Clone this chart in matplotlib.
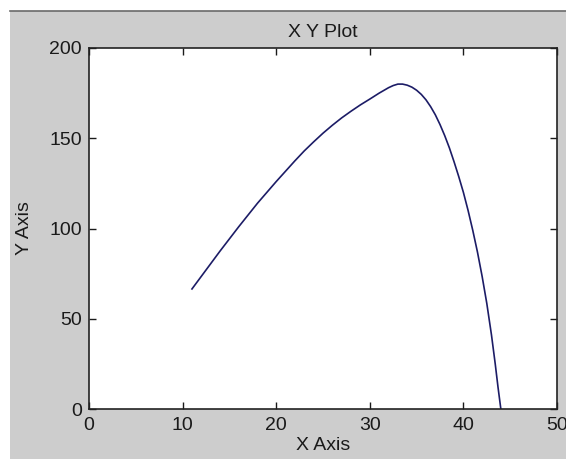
import matplotlib.pyplot as plt
from matplotlib.patches import Rectangle
from matplotlib.lines import Line2D

plt.rcParams['font.family'] = ['Liberation Sans', 'DejaVu Sans']

# points
x_vals = [11.0, 12.0, 14.0, 16.0, 18.0, 20.0, 22.0, 23.0, 24.0, 25.0, 26.0,
          27.0, 28.0, 29.0, 30.0, 31.0, 32.0, 32.5, 33.0, 33.5, 34.0, 34.5,
          35.0, 35.5, 36.0, 36.5, 37.0, 37.5, 38.0, 38.5, 39.0, 39.5, 40.0,
          40.5, 41.0, 41.5, 42.0, 42.5, 43.0, 43.4, 43.7, 44.0]
y_vals = [66.5, 73.5, 87.5, 101, 114, 126, 137.5, 143, 148, 152.8, 157.2,
          161.3, 165, 168.5, 171.7, 175, 178, 179.2, 180, 180, 179.4, 178.3,
          176.6, 174.3, 171.3, 167.5, 163, 157.6, 151.5, 144.7, 137, 128.8, 120,
          110, 99, 87, 73.5, 58.5, 41, 25, 12, 0]

x_ticks = [0, 10, 20, 30, 40, 50]
y_ticks = [0, 50, 100, 150, 200]

fig = plt.figure(figsize=(5.66, 4.59), dpi=100)
fig.patch.set_facecolor('white')

# grey window area like the MATLAB figure
bg_left = 10 / 566
bg_top = 1 - 11 / 459
fig.patches.append(Rectangle((bg_left, 0), 1 - bg_left, bg_top,
                             transform=fig.transFigure, facecolor='#cdcdcd',
                             edgecolor='none', zorder=-10))
fig.lines.append(Line2D([bg_left, 1], [bg_top, bg_top], transform=fig.transFigure,
                        color='#6a6a6a', lw=1.2))

ax = fig.add_axes([89 / 566, 50 / 459, (557 - 89) / 566, (409 - 48) / 459])
ax.set_facecolor('white')
ax.plot(x_vals, y_vals, color='#1c1c66', lw=1.2)

ax.set_xlim(0, 50)
ax.set_ylim(0, 200)
ax.set_xticks(x_ticks)
ax.set_yticks(y_ticks)
ax.tick_params(direction='in', length=5, width=1, top=True, right=True,
               labelsize=14, colors='#1a1a1a')
ax.tick_params(axis='x', pad=6)
ax.tick_params(axis='y', pad=5)
for s in ax.spines.values():
    s.set_color('#222222')
    s.set_linewidth(1.2)

ax.set_title('X Y Plot', fontsize=14, color='#1a1a1a', pad=8)
ax.set_xlabel('X Axis', fontsize=14, color='#1a1a1a', labelpad=2)
ax.set_ylabel('Y Axis', fontsize=14, color='#1a1a1a', labelpad=12)

fig.savefig('out.png', dpi=100, facecolor=fig.get_facecolor())
